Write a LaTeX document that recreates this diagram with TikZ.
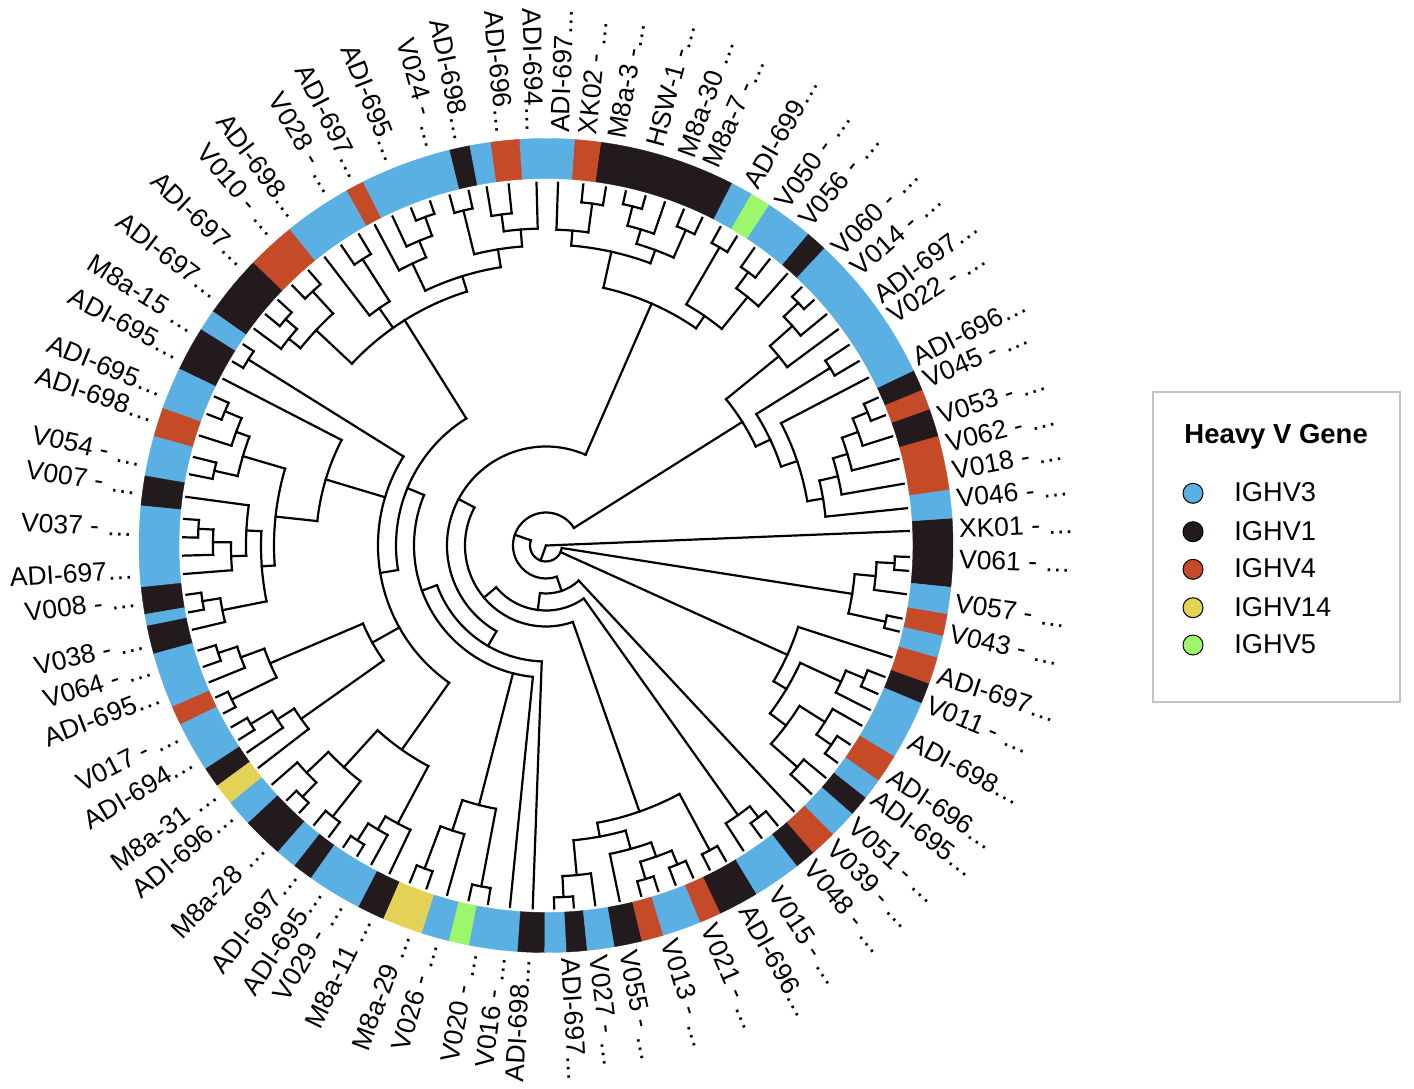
\documentclass[tikz,border=0pt]{standalone}
\usepackage{fontspec}
\setmainfont{Liberation Sans}
\definecolor{cB}{RGB}{90,175,227}
\definecolor{cK}{RGB}{35,26,30}
\definecolor{cR}{RGB}{197,74,40}
\definecolor{cY}{RGB}{228,210,86}
\definecolor{cG}{RGB}{157,247,108}
\definecolor{cL}{RGB}{192,196,200}
\tikzset{
  tr/.style={line width=1.1pt, line cap=rect, black},
  lab/.style={font=\fontsize{13.25}{15}\selectfont, inner sep=0pt},
  leg/.style={font=\fontsize{13.6}{16}\selectfont, inner sep=0pt, anchor=west},
  dot/.style={circle, draw=black, line width=0.5pt, minimum size=10pt, inner sep=0pt}
}
% ring segment: from angle, to angle, colour
\newcommand\seg[3]{\filldraw[#3, line width=0.2pt] ([shift={(C)}]#1:367) arc[start angle=#1,end angle=#2,radius={367*0.5pt}] -- ([shift={(C)}]#2:407) arc[start angle=#2,end angle=#1,radius={407*0.5pt}] -- cycle;}
% arc at radius r from a1 to a2
\newcommand\arcc[3]{\draw[tr] ([shift={(C)}]#2:#1) arc[start angle=#2,end angle=#3,radius={#1*0.5pt}];}
% radial line at angle a from r1 to r2
\newcommand\rl[3]{\draw[tr] ([shift={(C)}]#1:#2) -- ([shift={(C)}]#1:#3);}
% internal node: parent radius, radius, first child angle, last child angle
\newcommand\nd[4]{\pgfmathsetmacro\mida{(#3+#4)/2}\arcc{#2}{#3}{#4}\rl{\mida}{#1}{#2}}
% leaf: node radius, angle
\newcommand\lf[2]{\rl{#2}{#1}{363}}
\newcommand\lfs[3]{\lf{#1}{#2}\lf{#1}{#3}}
% labels
\newcommand\labR[3]{\node[lab,anchor=west,rotate=#2] (#1) at ([shift={(C)}]#2:413) {#3};}
\newcommand\labL[3]{\node[lab,anchor=east,rotate=#2+180] (#1) at ([shift={(C)}]#2:413) {#3};}
\begin{document}
\begin{tikzpicture}[x=0.5pt,y=0.5pt]
\fill[white] (0,0) rectangle (1414,-1088);
\useasboundingbox (0,0) rectangle (1414,-1088);
\coordinate (C) at (546,-545.5);
% ---------------- ring ----------------
\seg{354.11}{363.86}{cK}
\seg{3.86}{7.92}{cB}
\seg{7.92}{15.63}{cR}
\seg{15.63}{19.59}{cK}
\seg{19.59}{22.53}{cR}
\seg{22.53}{25.47}{cK}
\seg{25.47}{46.94}{cB}
\seg{46.94}{49.97}{cK}
\seg{49.97}{56.83}{cB}
\seg{56.83}{59.75}{cG}
\seg{59.75}{62.88}{cB}
\seg{62.88}{82.27}{cK}
\seg{82.27}{85.98}{cR}
\seg{85.98}{93.78}{cB}
\seg{93.78}{97.87}{cR}
\seg{97.87}{100.87}{cB}
\seg{100.87}{103.76}{cK}
\seg{103.76}{116.79}{cB}
\seg{116.79}{119.37}{cR}
\seg{119.37}{129.09}{cB}
\seg{129.09}{136.03}{cR}
\seg{136.03}{144.92}{cK}
\seg{144.92}{147.97}{cB}
\seg{147.97}{154.29}{cK}
\seg{154.29}{160.30}{cB}
\seg{160.30}{164.44}{cR}
\seg{164.44}{170.15}{cB}
\seg{170.15}{174.39}{cK}
\seg{174.39}{185.91}{cB}
\seg{185.91}{189.75}{cK}
\seg{189.75}{191.42}{cB}
\seg{191.42}{195.46}{cK}
\seg{195.46}{203.35}{cB}
\seg{203.35}{206.11}{cR}
\seg{206.11}{213.28}{cB}
\seg{213.28}{216.17}{cK}
\seg{216.17}{219.24}{cY}
\seg{219.24}{222.99}{cB}
\seg{222.99}{228.83}{cK}
\seg{228.83}{231.90}{cB}
\seg{231.90}{234.78}{cK}
\seg{234.78}{242.61}{cB}
\seg{242.61}{246.49}{cK}
\seg{246.49}{252.26}{cY}
\seg{252.26}{256.24}{cB}
\seg{256.24}{259.13}{cG}
\seg{259.13}{266.02}{cB}
\seg{266.02}{269.82}{cK}
\seg{269.82}{272.92}{cB}
\seg{272.92}{275.83}{cK}
\seg{275.83}{279.73}{cB}
\seg{279.73}{283.65}{cK}
\seg{283.65}{286.76}{cR}
\seg{286.76}{292.30}{cB}
\seg{292.30}{295.41}{cR}
\seg{295.41}{301.15}{cK}
\seg{301.15}{308.11}{cB}
\seg{308.11}{311.05}{cK}
\seg{311.05}{314.87}{cR}
\seg{314.87}{318.83}{cB}
\seg{318.83}{321.77}{cK}
\seg{321.77}{324.80}{cB}
\seg{324.80}{328.85}{cR}
\seg{328.85}{337.27}{cB}
\seg{337.27}{340.21}{cK}
\seg{340.21}{344.06}{cR}
\seg{344.06}{347.21}{cB}
\seg{347.21}{350.34}{cR}
\seg{350.34}{354.11}{cB}
% ---------------- tree: core ----------------
\lf{0}{2.3}
\rl{250}{0}{16}
\arcc{16}{161}{351.03}
\rl{161}{16}{33}
\arcc{33}{32.19}{289}
\rl{289}{33}{48}
\arcc{48}{262.73}{313.0}
\lf{48}{313.0}
\rl{262.73}{48}{65}
\arcc{65}{220}{305.45}
\rl{220}{65}{81}
\arcc{81}{152}{289.36}
% V057 clade
\nd{16}{310}{347.35}{354.7}
\nd{310}{331}{352.3}{357.1}\lf{331}{352.3}
\nd{331}{349}{356.0}{358.2}\lfs{349}{356.0}{358.2}
\nd{310}{348}{346.3}{348.4}\lfs{348}{346.3}{348.4}
% W clade
\nd{16}{265}{329.18}{342.1}\lf{265}{342.1}
\nd{265}{280}{323.14}{335.225}
\nd{280}{325}{333.1}{337.35}\lf{325}{333.1}
\nd{325}{345}{335.9}{338.8}\lfs{345}{335.9}{338.8}
\nd{280}{300}{318.6}{327.675}
\nd{300}{335}{316.9}{320.3}\lfs{335}{316.9}{320.3}
\nd{300}{330}{325.05}{330.3}\lf{330}{330.3}
\nd{330}{348}{323.3}{326.8}\lfs{348}{323.3}{326.8}
% Z clade
\nd{65}{331}{302.9}{308.0}\lf{331}{302.9}
\nd{331}{345}{306.4}{309.6}\lfs{345}{306.4}{309.6}
% Q clade
\nd{81}{282}{280.47}{298.25}
\nd{282}{346}{296.8}{299.7}\lfs{346}{296.8}{299.7}
\nd{282}{296}{275.33}{285.6}
\nd{296}{331}{272.85}{277.8}\lf{331}{277.8}
\nd{331}{352}{271.3}{274.4}\lfs{352}{271.3}{274.4}
\nd{296}{315}{281.7}{289.5}\lf{315}{281.7}
\nd{315}{330}{286.6}{292.4}
\nd{330}{348}{285.2}{288.0}\lfs{348}{285.2}{288.0}
\nd{330}{345}{290.9}{293.9}\lfs{345}{290.9}{293.9}
% left spine
\rl{152}{81}{99}
\arcc{99}{66.41}{240}
\rl{240}{99}{116}
\arcc{116}{200}{267.9}
\lf{116}{267.9}
\rl{200}{116}{132}
\arcc{132}{157.5}{264.3}
\lf{132}{264.3}
\rl{157.5}{132}{150}
\arcc{150}{122.1}{189.4}
\rl{189.4}{150}{168}
\arcc{168}{148.0}{234.8}
% G clade
\nd{132}{268}{251.8}{259.25}
\nd{268}{300}{249.4}{254.2}\lf{300}{254.2}
\nd{300}{345}{248.0}{250.8}\lfs{345}{248.0}{250.8}
\nd{268}{347}{257.7}{260.8}\lfs{347}{257.7}{260.8}
% L clade
\nd{168}{250}{227.65}{241.9}
\nd{250}{300}{223.5}{231.8}
\nd{300}{330}{221.1}{225.9}\lf{330}{221.1}
\nd{330}{350}{224.5}{227.3}\lfs{350}{224.5}{227.3}
\nd{300}{345}{230.3}{233.3}\lfs{345}{230.3}{233.3}
\nd{250}{315}{239.35}{244.5}\lf{315}{244.5}
\nd{315}{330}{237.4}{241.3}\lf{330}{241.3}
\nd{330}{350}{236.1}{238.7}\lfs{350}{236.1}{238.7}
% M clades
\nd{168}{351}{146.4}{149.6}\lfs{351}{146.4}{149.6}
\nd{168}{230}{152.7}{173.9}\lf{230}{152.7}
\nd{230}{272}{163.6}{184.2}
\nd{272}{316}{159.85}{167.3}
\nd{316}{330}{157.3}{162.4}\lf{330}{162.4}
\nd{330}{348}{155.8}{158.8}\lfs{348}{155.8}{158.8}
\nd{316}{340}{165.9}{168.7}\lfs{340}{165.9}{168.7}
\nd{272}{285}{177.1}{191.3}
\nd{285}{300}{172.3}{181.95}\lf{300}{172.3}
\nd{300}{315}{179.4}{184.5}\lf{315}{184.5}
\nd{315}{333}{177.25}{181.6}\lf{333}{181.6}
\nd{333}{348}{175.8}{178.7}\lfs{348}{175.8}{178.7}
\nd{285}{330}{189.2}{193.4}\lf{330}{193.4}
\nd{330}{348}{187.8}{190.6}\lfs{348}{187.8}{190.6}
% K clade
\nd{168}{199}{203.1}{215.3}
\nd{199}{300}{200.125}{206.1}
\nd{300}{325}{198.15}{202.1}\lf{325}{202.1}
\nd{325}{345}{196.8}{199.5}\lfs{345}{196.8}{199.5}
\nd{300}{350}{204.7}{207.5}\lfs{350}{204.7}{207.5}
\nd{199}{300}{212.9}{217.7}\lf{300}{217.7}
\nd{300}{320}{211.15}{214.7}\lf{320}{214.7}
\nd{320}{345}{210.0}{212.3}\lfs{345}{210.0}{212.3}
% P clade
\nd{150}{266}{107.3}{136.9}
\rl{125.1}{266}{290}
\arcc{290}{122.65}{127.5}\lf{290}{127.5}
\nd{290}{340}{121.0}{124.3}\lfs{340}{121.0}{124.3}
\nd{266}{315}{132.55}{141.2}
\nd{315}{345}{130.8}{134.3}\lfs{345}{130.8}{134.3}
\nd{315}{330}{139.0}{143.4}\lf{330}{143.4}
\nd{330}{345}{137.5}{140.5}\lfs{345}{137.5}{140.5}
\nd{266}{282}{99.2}{115.35}
\nd{282}{300}{94.6}{103.85}
\nd{300}{317}{91.5}{97.65}\lf{317}{91.5}
\nd{317}{334}{95.9}{99.4}\lfs{334}{95.9}{99.4}
\nd{300}{345}{102.3}{105.4}\lfs{345}{102.3}{105.4}
\nd{282}{312}{112.6}{118.1}\lf{312}{118.1}
\nd{312}{330}{110.2}{115.0}\lf{330}{115.0}
\nd{330}{350}{108.6}{111.8}\lfs{350}{108.6}{111.8}
% T clade
\nd{99}{264}{55.375}{77.45}
\nd{264}{279}{50.95}{59.8}
\nd{279}{320}{48.4}{53.5}\lf{320}{48.4}
\nd{320}{340}{52.0}{55.0}\lfs{340}{52.0}{55.0}
\nd{279}{345}{58.3}{61.3}\lfs{345}{58.3}{61.3}
\nd{264}{301}{69.7}{85.2}
\nd{301}{315}{66.1}{73.3}
\nd{315}{345}{64.5}{67.7}\lfs{345}{64.5}{67.7}
\nd{315}{330}{70.9}{75.7}\lf{330}{70.9}
\nd{330}{350}{74.1}{77.3}\lfs{350}{74.1}{77.3}
\nd{301}{316}{82.3}{88.1}\lf{316}{88.1}
\nd{316}{345}{80.5}{84.1}\lfs{345}{80.5}{84.1}
% D clade
\nd{33}{232}{25.28}{39.1}
\nd{232}{248}{18.56}{32.0}
\nd{248}{265}{9.625}{27.5}\lf{265}{27.5}
\nd{265}{281}{5.9}{13.35}\lf{281}{5.9}
\nd{281}{300}{9.8}{16.9}\lf{300}{9.8}
\nd{300}{315}{13.8}{20.0}\lf{315}{13.8}
\nd{315}{332}{17.5}{22.5}\lf{332}{17.5}
\nd{332}{348}{21.0}{24.0}\lfs{348}{21.0}{24.0}
\nd{248}{335}{30.5}{33.5}\lfs{335}{30.5}{33.5}
\nd{232}{300}{36.5}{41.7}\lf{300}{36.5}
\nd{300}{330}{39.5}{43.9}\lf{330}{39.5}
\nd{330}{350}{42.5}{45.3}\lfs{350}{42.5}{45.3}
% ---------------- labels ----------------
\labR{r01}{88.03}{ADI-697…}
\labR{r02}{84.22}{XK02 - …}
\labR{r03}{80.12}{M8a-3 -…}
\labR{r04}{74.80}{HSW-1 -…}
\labR{r05}{70.28}{M8a-30 …}
\labR{r06}{66.56}{M8a-7 -…}
\labR{r07}{60.32}{ADI-699…}
\labR{r08}{55.28}{V050 - …}
\labR{r09}{51.24}{V056 - …}
\labR{r10}{45.38}{V060 - …}
\labR{r11}{41.65}{V014 - …}
\labR{r12}{36.89}{ADI-697…}
\labR{r13}{33.55}{V022 - …}
\labR{r14}{26.87}{ADI-696…}
\labR{r15}{23.63}{V045 - …}
\labR{r16}{18.26}{V053 - …}
\labR{r17}{14.30}{V062 - …}
\labR{r18}{10.45}{V018 - …}
\labR{r19}{6.49}{V046 - …}
\labR{r20}{2.33}{XK01 - …}
\labR{r21}{-1.93}{V061 - …}
\labR{r22}{-8.01}{V057 - …}
\labR{r23}{-12.27}{V043 - …}
\labR{r24}{-18.26}{ADI-697…}
\labR{r25}{-22.51}{V011 - …}
\labR{r26}{-28.09}{ADI-698…}
\labR{r27}{-33.65}{ADI-696…}
\labR{r28}{-37.30}{ADI-695…}
\labR{r29}{-42.15}{V051 - …}
\labR{r30}{-46.19}{V039 - …}
\labR{r31}{-50.33}{V048 - …}
\labR{r32}{-56.39}{V015 - …}
\labR{r33}{-61.02}{ADI-696…}
\labR{r34}{-66.76}{V021 - …}
\labR{r35}{-72.59}{V013 - …}
\labR{r36}{-78.51}{V055 - …}
\labR{r37}{-82.72}{V027 - …}
\labR{r38}{-86.63}{ADI-697…}
\labL{l01}{91.53}{ADI-694…}
\labL{l02}{95.63}{ADI-696…}
\labL{l03}{101.51}{ADI-698…}
\labL{l04}{105.50}{V024 - …}
\labL{l05}{111.47}{ADI-695…}
\labL{l06}{116.94}{ADI-697…}
\labL{l07}{121.01}{V028 - …}
\labL{l08}{127.06}{ADI-698…}
\labL{l09}{130.82}{V010 - …}
\labL{l10}{136.67}{ADI-697…}
\labL{l11}{142.50}{ADI-697…}
\labL{l12}{148.03}{M8a-15 …}
\labL{l13}{152.17}{ADI-695…}
\labL{l14}{157.80}{ADI-695…}
\labL{l15}{161.45}{ADI-698…}
\labL{l16}{167.76}{V054 - …}
\labL{l17}{171.70}{V007 - …}
\labL{l18}{177.52}{V037 - …}
\labL{l19}{183.43}{ADI-697…}
\labL{l20}{187.37}{V008 - …}
\labL{l21}{193.29}{V038 - …}
\labL{l22}{197.13}{V064 - …}
\labL{l23}{201.08}{ADI-695…}
\labL{l24}{207.00}{V017 - …}
\labL{l25}{211.05}{ADI-694…}
\labL{l26}{216.55}{M8a-31 …}
\labL{l27}{220.24}{ADI-696…}
\labL{l28}{226.40}{M8a-28 …}
\labL{l29}{232.13}{ADI-697…}
\labL{l30}{236.29}{ADI-695…}
\labL{l31}{239.57}{V029 - …}
\labL{l32}{244.06}{M8a-11 …}
\labL{l33}{249.71}{M8a-29 …}
\labL{l34}{253.79}{V026 - …}
\labL{l35}{259.38}{V020 - …}
\labL{l36}{263.27}{V016 - …}
\labL{l37}{266.67}{ADI-698…}
% ---------------- legend ----------------
\draw[cL, line width=0.8pt] (1153,-392) rectangle (1400,-702);
\node[anchor=base west, inner sep=0pt, font=\bfseries\fontsize{13.75}{16}\selectfont] (lgt) at (1184,-443) {Heavy V Gene};
\node[dot, fill=cB] (d1) at (1193,-493.3) {};
\node[dot, fill=cK] (d2) at (1193,-531.7) {};
\node[dot, fill=cR] (d3) at (1193,-569.3) {};
\node[dot, fill=cY] (d4) at (1193,-607.7) {};
\node[dot, fill=cG] (d5) at (1193,-645) {};
\node[leg] (t1) at (1234,-492.3) {IGHV3};
\node[leg] (t2) at (1234,-530.7) {IGHV1};
\node[leg] (t3) at (1234,-568.3) {IGHV4};
\node[leg] (t4) at (1234,-606.7) {IGHV14};
\node[leg] (t5) at (1234,-644) {IGHV5};
\end{tikzpicture}
\end{document}
